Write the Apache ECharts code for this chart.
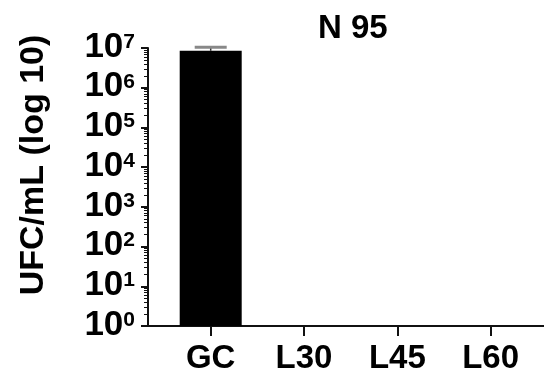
<!DOCTYPE html>
<html><head><meta charset="utf-8">
<script src="https://cdn.jsdelivr.net/npm/echarts@6/dist/echarts.min.js"></script>
<style>html,body{margin:0;padding:0;background:#fff}#c{width:544px;height:376px}</style>
</head><body><div id="c"></div>
<script>
var categories = ['GC', 'L30', 'L45', 'L60'];
var meanValues = [8.5e6, null, null, null];
var upperValues = [1.05e7, null, null, null];
var majorTickValues = [1, 10, 100, 1000, 10000, 100000, 1000000, 10000000];
var minorTickValues = [];
for (var d = 0; d < 7; d++) { for (var m = 2; m <= 9; m++) { minorTickValues.push(m * Math.pow(10, d)); } }
var catPositions = [0, 1, 2, 3];

var font = '"Liberation Sans", Arial, sans-serif';
var chart = echarts.init(document.getElementById('c'));
var barData = [], errData = [];
categories.forEach(function (c, i) {
  if (meanValues[i] != null) barData.push([catPositions[i], meanValues[i]]);
  if (upperValues[i] != null) errData.push([catPositions[i], meanValues[i], upperValues[i]]);
});
chart.setOption({
  animation: false,
  title: {
    text: 'N 95', left: 313, top: 7,
    textStyle: { fontFamily: font, fontSize: 33, fontWeight: 'bold', color: '#000' }
  },
  grid: { left: 148, right: 0, top: 48, bottom: 50, containLabel: false },
  xAxis: {
    type: 'value', min: -0.672, max: 3.572,
    splitLine: { show: false },
    axisLine: { show: true, onZero: false, lineStyle: { color: '#111', width: 2 } },
    axisTick: { show: true, length: 10, customValues: catPositions, lineStyle: { color: '#111', width: 2 } },
    axisLabel: {
      customValues: catPositions, margin: 16,
      fontFamily: font, fontSize: 33, fontWeight: 'bold', color: '#000',
      formatter: function (v) { return categories[Math.round(v)]; }
    }
  },
  yAxis: [{
    type: 'log', logBase: 10, min: 1, max: 1e7,
    name: 'UFC/mL (log 10)', nameLocation: 'middle', nameGap: 97,
    nameTextStyle: { fontFamily: font, fontSize: 34, fontWeight: 'bold', color: '#000', padding: [0, 0, 0, 44] },
    splitLine: { show: false },
    axisLine: { show: true, onZero: false, lineStyle: { color: '#111', width: 2 } },
    axisTick: { show: true, length: 7, customValues: majorTickValues, lineStyle: { color: '#111', width: 2 } },
    axisLabel: {
      customValues: majorTickValues, margin: 13,
      formatter: function (v) { return '{b|10}{s|' + Math.round(Math.log10(v)) + '}'; },
      rich: {
        b: { fontFamily: font, fontSize: 35, fontWeight: 'bold', color: '#000', lineHeight: 33, verticalAlign: 'bottom' },
        s: { fontFamily: font, fontSize: 21, fontWeight: 'bold', color: '#000', lineHeight: 33, verticalAlign: 'top', padding: [0, 0, 10, 0] }
      }
    }
  }, {
    type: 'log', logBase: 10, min: 1, max: 1e7, position: 'left',
    splitLine: { show: false },
    axisLine: { show: false, onZero: false },
    axisLabel: { show: false },
    axisTick: { show: true, length: 4, customValues: minorTickValues, lineStyle: { color: '#111', width: 1 } }
  }],
  series: [{
    type: 'bar', yAxisIndex: 0, barWidth: 62,
    itemStyle: { color: '#000' },
    data: barData
  }, {
    type: 'custom', yAxisIndex: 0, clip: false, z: 5,
    renderItem: function (params, api) {
      var x = api.value(0);
      var pLow = api.coord([x, api.value(1)]);
      var pHigh = api.coord([x, api.value(2)]);
      var hw = 16;
      return { type: 'group', children: [
        { type: 'line', shape: { x1: pLow[0], y1: pLow[1], x2: pHigh[0], y2: pHigh[1] }, style: { stroke: '#333', lineWidth: 1.5 } },
        { type: 'line', shape: { x1: pHigh[0] - hw, y1: pHigh[1], x2: pHigh[0] + hw, y2: pHigh[1] }, style: { stroke: '#888', lineWidth: 3 } }
      ]};
    },
    data: errData
  }]
});
</script></body></html>
